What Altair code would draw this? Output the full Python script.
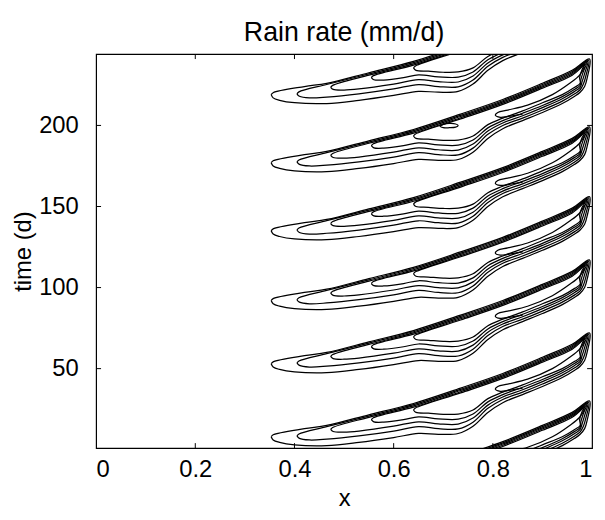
import altair as alt
import pandas as pd

# time (d) of each band's leading front at x = 0.465
band_t0 = [-27.0, 15.0, 60.0, 99.0, 142.0, 184.0, 226.0]

# leading front (upper edge of every contour), offsets in days from band_t0
front_x = [0.36, 0.38, 0.42, 0.465, 0.55, 0.64, 0.735, 0.82, 0.90, 0.96, 0.995]
front_dt = [-5.0, -3.8, -2.0, 0.0, 6.5, 13.5, 23.0, 32.0, 42.0, 50.0, 57.0]

# lower edges of the nested contours (tip first), offsets in days
c1_x = [0.353, 0.357, 0.37, 0.40, 0.465, 0.53, 0.60, 0.65, 0.69, 0.73, 0.76, 0.79, 0.82, 0.86, 0.90, 0.94, 0.965]
c1_dt = [-7.0, -9.0, -10.5, -12.0, -12.5, -10.5, -7.5, -5.0, -5.5, -5.0, -0.5, 8.0, 14.0, 19.0, 24.0, 29.5, 34.0]
c2_x = [0.405, 0.41, 0.43, 0.465, 0.53, 0.60, 0.65, 0.69, 0.73, 0.76, 0.79, 0.82, 0.86, 0.90, 0.94, 0.965]
c2_dt = [-6.5, -8.0, -9.0, -8.5, -6.5, -3.5, -0.8, -2.0, -2.2, 2.0, 10.5, 16.0, 20.5, 25.5, 31.0, 35.5]
c3_x = [0.473, 0.478, 0.50, 0.53, 0.60, 0.65, 0.69, 0.73, 0.76, 0.79, 0.82, 0.86, 0.90, 0.94, 0.965]
c3_dt = [-2.5, -3.8, -4.2, -3.5, -0.5, 2.2, 1.0, 0.8, 4.5, 12.5, 17.5, 22.0, 27.0, 32.5, 37.0]
c4_x = [0.555, 0.56, 0.58, 0.62, 0.65, 0.69, 0.73, 0.76, 0.79, 0.82, 0.86, 0.90, 0.94, 0.965]
c4_dt = [3.5, 2.2, 2.0, 3.5, 5.2, 4.0, 3.8, 7.0, 14.5, 19.0, 23.5, 28.3, 33.8, 38.3]
c5_x = [0.64, 0.645, 0.67, 0.70, 0.73, 0.76, 0.79, 0.82, 0.86, 0.90, 0.94, 0.965]
c5_dt = [9.5, 8.0, 7.5, 6.8, 7.0, 9.5, 16.5, 20.5, 25.0, 30.0, 35.0, 39.5]

# plateau contour between the front and the bundle
plat_x = [0.86, 0.83, 0.815, 0.805, 0.81, 0.83, 0.87, 0.92, 0.955, 0.975, 0.985]
plat_dt = [23.0, 21.5, 21.0, 22.3, 24.0, 25.5, 28.5, 35.0, 42.0, 47.0, 52.0]

# small isolated contour near x = 0.71, t = 200
iso_x = [0.693, 0.70, 0.712, 0.725, 0.73, 0.725, 0.712, 0.70, 0.693]
iso_t = [199.5, 200.6, 201.2, 200.9, 200.0, 199.0, 198.6, 198.6, 199.5]

x_ticks = [0, 0.2, 0.4, 0.6, 0.8, 1]
y_ticks = [50, 100, 150, 200]

lower = [(c1_x, c1_dt), (c2_x, c2_dt), (c3_x, c3_dt), (c4_x, c4_dt), (c5_x, c5_dt)]
gap = 0.75  # spacing of the bunched contours along the front (days)

rows = []
pid = 0
for b, t0 in enumerate(band_t0):
    for i, (lx, ldt) in enumerate(lower):
        pts = list(zip(lx, ldt))
        ye = ldt[-1]
        pts += [(0.976, ye + 2.5), (0.985 - 0.0025 * i, ye + 6.0), (0.99 - 0.0025 * i, ye + 11.0)]
        fr = [(fx if fx < 0.99 else fx - 0.002 * i, fd - gap * i)
              for fx, fd in zip(front_x, front_dt) if fx >= lx[0] + 0.03]
        pts += fr[::-1]
        pts += [(lx[0] + 0.004, ldt[0] + 1.2), (lx[0], ldt[0])]
        for o, (px, pd_) in enumerate(pts):
            rows.append({"x": px, "t": t0 + pd_, "path": pid, "order": o})
        pid += 1
    for o, (px, pd_) in enumerate(zip(plat_x, plat_dt)):
        rows.append({"x": px, "t": t0 + pd_, "path": pid, "order": o})
    pid += 1
for o, (px, pt) in enumerate(zip(iso_x, iso_t)):
    rows.append({"x": px, "t": pt, "path": pid, "order": o})

df = pd.DataFrame(rows)

W, H = 501, 398
xs = alt.Scale(domain=[0, 1], nice=False, zero=False)
ys = alt.Scale(domain=[1, 244], nice=False, zero=False)

ax_common = dict(ticks=False, domain=False, grid=False, labelFontSize=24, titleFontSize=24,
                 labelFont="Liberation Sans", titleFont="Liberation Sans",
                 labelColor="black", titleColor="black", titleFontWeight="normal")
x_axis = alt.Axis(values=x_ticks, format="~g", labelPadding=10, titlePadding=5, **ax_common)
y_axis = alt.Axis(values=y_ticks, labelPadding=18, titlePadding=3, **ax_common)

lines = alt.Chart(df).mark_line(color="black", strokeWidth=1.25, clip=True,
                                interpolate="catmull-rom").encode(
    x=alt.X("x:Q", scale=xs, title="x", axis=x_axis),
    y=alt.Y("t:Q", scale=ys, title="time (d)", axis=y_axis),
    detail="path:N",
    order="order:Q",
)

xt = pd.DataFrame({"x": x_ticks[1:-1]})
yt = pd.DataFrame({"t": y_ticks})
tb = alt.Chart(xt).mark_rule(color="black").encode(
    x=alt.X("x:Q", scale=xs, title="x", axis=x_axis), y=alt.value(H), y2=alt.value(H - 5))
tt = alt.Chart(xt).mark_rule(color="black").encode(
    x=alt.X("x:Q", scale=xs, title="x", axis=x_axis), y=alt.value(0), y2=alt.value(5))
tl = alt.Chart(yt).mark_rule(color="black").encode(
    y=alt.Y("t:Q", scale=ys, title="time (d)", axis=y_axis), x=alt.value(0), x2=alt.value(5))
tr = alt.Chart(yt).mark_rule(color="black").encode(
    y=alt.Y("t:Q", scale=ys, title="time (d)", axis=y_axis), x=alt.value(W - 5), x2=alt.value(W))

chart = alt.layer(lines, tb, tt, tl, tr).properties(
    width=W, height=H,
    title=alt.TitleParams("Rain rate (mm/d)", fontSize=27, font="Liberation Sans",
                          fontWeight="normal", color="black", offset=7),
    autosize=alt.AutoSizeParams(type="none"),
    padding={"left": 89, "top": 44, "right": 5, "bottom": 62},
).configure_view(stroke="black", strokeWidth=1.2)

chart.save("out.html", embed_options={"renderer": "svg", "actions": False})
